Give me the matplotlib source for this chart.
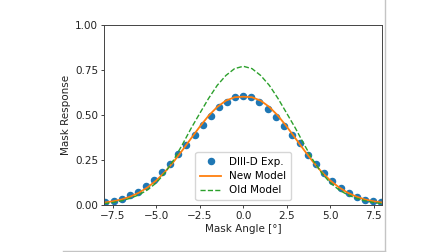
import matplotlib
matplotlib.use("Agg")
import matplotlib.pyplot as plt
from matplotlib.lines import Line2D

# Experimental data (DIII-D)
exp_angle = [-7.94, -7.47, -7.0, -6.53, -6.07, -5.6, -5.13, -4.67, -4.2, -3.73, -3.27,
             -2.8, -2.33, -1.87, -1.4, -0.93, -0.47, 0.0, 0.47, 0.93, 1.4, 1.87, 2.33,
             2.8, 3.27, 3.73, 4.2, 4.67, 5.13, 5.6, 6.07, 6.53, 7.0, 7.47, 7.94]
exp_resp = [0.013, 0.020, 0.031, 0.052, 0.072, 0.104, 0.137, 0.180, 0.226, 0.280, 0.333,
            0.385, 0.444, 0.494, 0.541, 0.572, 0.596, 0.602, 0.598, 0.569, 0.531, 0.489,
            0.437, 0.389, 0.341, 0.278, 0.226, 0.176, 0.130, 0.094, 0.067, 0.044, 0.028,
            0.019, 0.013]

# Model curves
model_angle = [-8.0, -7.5, -7.0, -6.5, -6.0, -5.5, -5.0, -4.5, -4.0, -3.5, -3.0, -2.5,
               -2.0, -1.5, -1.0, -0.5, 0.0, 0.5, 1.0, 1.5, 2.0, 2.5, 3.0, 3.5, 4.0,
               4.5, 5.0, 5.5, 6.0, 6.5, 7.0, 7.5, 8.0]
new_model = [0.012, 0.019, 0.029, 0.045, 0.067, 0.097, 0.135, 0.183, 0.240, 0.303,
             0.369, 0.434, 0.494, 0.543, 0.578, 0.597, 0.600, 0.597, 0.578, 0.543,
             0.494, 0.434, 0.369, 0.303, 0.240, 0.183, 0.135, 0.097, 0.067, 0.045,
             0.029, 0.019, 0.012]
old_model = [0.006, 0.012, 0.022, 0.036, 0.055, 0.083, 0.122, 0.178, 0.250, 0.335,
             0.425, 0.508, 0.590, 0.663, 0.718, 0.756, 0.769, 0.756, 0.718, 0.663,
             0.590, 0.508, 0.425, 0.335, 0.250, 0.178, 0.122, 0.083, 0.055, 0.036,
             0.022, 0.012, 0.006]

xticks = [-7.5, -5.0, -2.5, 0.0, 2.5, 5.0, 7.5]
yticks = [0.0, 0.25, 0.5, 0.75, 1.0]

plt.rcParams['font.family'] = ['DejaVu Sans']
fs = 7.5

fig = plt.figure(figsize=(4.48, 2.52), dpi=100)
ax = fig.add_axes([0.2328, 0.1877, 0.6205, 0.7143])

ax.plot(exp_angle, exp_resp, 'o', color='tab:blue', markersize=4.4, label='DIII-D Exp.')
ax.plot(model_angle, new_model, '-', color='tab:orange', linewidth=1.3, label='New Model')
ax.plot(model_angle, old_model, '--', color='tab:green', linewidth=1.0, label='Old Model')

ax.set_xlim(-8, 8)
ax.set_ylim(0, 1.0)
ax.set_xticks(xticks)
ax.set_yticks(yticks)
ax.set_xticklabels([f"{t:.1f}".replace('-', '\u2212') for t in xticks])
ax.set_yticklabels([f"{t:.2f}" for t in yticks])
ax.tick_params(labelsize=fs, length=2.5, width=0.6, pad=2, colors='#222222')
for s in ax.spines.values():
    s.set_linewidth(0.7)
    s.set_color('#444444')
ax.set_xlabel('Mask Angle [°]', fontsize=fs, labelpad=2, color='#222222')
ax.set_ylabel('Mask Response', fontsize=fs, labelpad=3, color='#222222')
ax.legend(loc='lower center', fontsize=fs, framealpha=0.8, edgecolor='#cccccc',
          handlelength=2.0, borderpad=0.45, labelspacing=0.4, borderaxespad=0.45)

# light gray frame lines (right and bottom edges)
fig.add_artist(Line2D([384.5 / 448, 384.5 / 448], [1.0, 1 - 251 / 252],
                      transform=fig.transFigure, color='#c4c4c4', linewidth=1.0))
fig.add_artist(Line2D([63 / 448, 384.5 / 448], [1 - 251 / 252, 1 - 251 / 252],
                      transform=fig.transFigure, color='#c4c4c4', linewidth=1.0))

fig.savefig('out.png', dpi=100)
